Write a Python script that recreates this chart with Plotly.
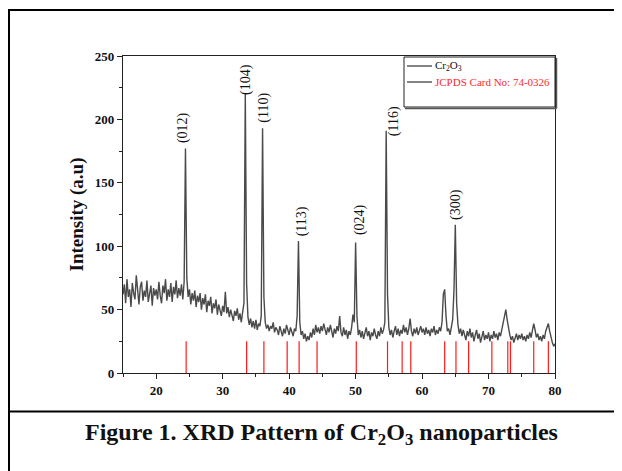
import plotly.graph_objects as go

# ---------------- data ----------------
# XRD intensity, sampled every 0.2 deg from 15.0 to 80.0 (2-theta)
intensity = [
    # 15.0 - 19.8
    62, 70, 55, 74, 60, 66, 52, 71, 63, 58, 77, 61, 54, 68, 72, 57, 65, 60, 73, 56, 64, 69, 53, 67, 61,
    # 20.0 - 24.8
    66, 58, 72, 61, 55, 69, 63, 74, 57, 66, 60, 71, 56, 68, 62, 73, 59, 67, 61, 70, 58, 72, 177, 75, 60,
    # 25.0 - 29.8
    66, 54, 63, 57, 65, 52, 61, 56, 63, 50, 59, 54, 62, 48, 57, 53, 60, 47, 55, 51, 58, 46, 54, 50, 45,
    # 30.0 - 34.8
    53, 48, 64, 47, 52, 44, 50, 46, 41, 49, 45, 51, 42, 47, 40, 48, 55, 220, 70, 44, 38, 43, 36, 41, 35,
    # 35.0 - 39.8
    42, 34, 39, 37, 45, 193, 60, 40, 35, 38, 33, 37, 35, 40, 32, 36, 34, 30, 37, 33, 29, 35, 31, 38, 33,
    # 40.0 - 44.8
    30, 36, 32, 29, 35, 33, 45, 104, 40, 30, 33, 27, 31, 25, 29, 26, 32, 28, 35, 30, 38, 32, 36, 31, 37,
    # 45.0 - 49.8
    33, 39, 35, 30, 36, 32, 38, 34, 28, 35, 31, 37, 33, 45, 32, 29, 36, 30, 34, 27, 33, 30, 36, 46, 40,
    # 50.0 - 54.8
    103, 45, 30, 34, 28, 33, 27, 31, 36, 29, 33, 26, 32, 29, 35, 30, 27, 33, 29, 36, 31, 34, 40, 191, 62,
    # 55.0 - 59.8
    36, 30, 34, 28, 33, 37, 30, 35, 29, 34, 31, 38, 32, 36, 30, 35, 43, 33, 29, 35, 31, 36, 30, 34, 37,
    # 60.0 - 64.8
    32, 35, 30, 36, 31, 34, 29, 35, 32, 37, 30, 34, 31, 36, 33, 40, 62, 66, 45, 33, 35, 30, 36, 42, 65,
    # 65.0 - 69.8
    117, 55, 38, 31, 35, 29, 34, 30, 26, 33, 29, 35, 28, 32, 25, 30, 34, 27, 31, 24, 29, 33, 26, 30, 27,
    # 70.0 - 74.8
    32, 25, 30, 27, 33, 28, 31, 26, 32, 29, 34, 38, 44, 50, 42, 35, 30, 26, 29, 24, 28, 31, 26, 30, 27,
    # 75.0 - 80.0
    31, 26, 29, 25, 30, 27, 32, 28, 33, 39, 34, 28, 31, 26, 29, 25, 30, 27, 33, 36, 39, 33, 28, 24, 21, 23,
]
assert len(intensity) == 326
two_theta = [round(15 + 0.2 * i, 1) for i in range(len(intensity))]

# JCPDS 74-0326 reference reflections (2-theta)
jcpds_2theta = [24.5, 33.6, 36.2, 39.7, 41.5, 44.2, 50.1, 54.8, 57.0, 58.3,
                63.4, 65.1, 67.0, 70.5, 72.9, 73.3, 76.8, 79.0]
jcpds_stick_height = 25

# Miller index labels and where they sit (2-theta, intensity of label base)
hkl_labels = ["(012)", "(104)", "(110)", "(113)", "(024)", "(116)", "(300)"]
hkl_label_x = [24.0, 33.5, 36.25, 41.9, 50.7, 55.9, 65.0]
hkl_label_y = [180, 218, 196, 106, 107, 185, 119]

x_ticks = [20, 30, 40, 50, 60, 70, 80]
y_ticks = [0, 50, 100, 150, 200, 250]

series_name = "Cr<sub>2</sub>O<sub>3</sub>"
card_name = "JCPDS Card No: 74-0326"
caption = "Figure 1. XRD Pattern of Cr<sub>2</sub>O<sub>3</sub> nanoparticles"

# ---------------- geometry (figure pixels; page body adds 8px offset) ----------------
SERIF = "Liberation Serif"
FW, FH = 622, 471
L, R, T, B = 115, 547, 48, 365
W, H = R - L, B - T


def px(xp):
    return (xp - L) / W


def py(yp):
    return (B - yp) / H


fig = go.Figure()

fig.add_trace(go.Scatter(
    x=two_theta, y=intensity, mode="lines",
    line=dict(color="#4a4a4a", width=1.4),
    name=series_name, showlegend=False,
))

stick_x, stick_y = [], []
for p in jcpds_2theta:
    stick_x += [p, p, None]
    stick_y += [0, jcpds_stick_height, None]
fig.add_trace(go.Scatter(
    x=stick_x, y=stick_y, mode="lines",
    line=dict(color="#ff1a1a", width=1.2),
    name=card_name, showlegend=False, hoverinfo="skip",
))

for lab, lx, ly in zip(hkl_labels, hkl_label_x, hkl_label_y):
    fig.add_annotation(
        x=lx, y=ly, text=lab, showarrow=False, textangle=-90,
        xanchor="center", yanchor="bottom",
        font=dict(family=SERIF, size=14, color="#111111"),
    )

# caption
fig.add_annotation(
    xref="paper", yref="paper", x=px(313), y=py(425.5),
    text="<b>" + caption + "</b>",
    showarrow=False, xanchor="center", yanchor="middle",
    font=dict(family=SERIF, size=24, color="#111111"),
)

# outer frame lines (top, left, caption separator)
frame = dict(type="line", xref="paper", yref="paper", line=dict(color="black", width=2))
fig.add_shape(x0=px(0), x1=px(FW), y0=py(2), y1=py(2), **frame)
fig.add_shape(x0=px(1), x1=px(1), y0=py(1), y1=py(FH), **frame)
fig.add_shape(x0=px(0), x1=px(FW), y0=py(403.5), y1=py(403.5), **frame)

# legend box (drawn to match the boxed legend of the original)
lg_x0, lg_x1, lg_y0, lg_y1 = 396, 547, 49, 99
fig.add_shape(type="line", xref="paper", yref="paper",
              x0=px(lg_x1 + 1.5), x1=px(lg_x1 + 1.5), y0=py(lg_y0 + 1), y1=py(lg_y1 + 1.5),
              line=dict(color="#555555", width=1.5))
fig.add_shape(type="line", xref="paper", yref="paper",
              x0=px(lg_x0 + 1), x1=px(lg_x1 + 1.5), y0=py(lg_y1 + 1.5), y1=py(lg_y1 + 1.5),
              line=dict(color="#555555", width=1.5))
fig.add_shape(type="rect", xref="paper", yref="paper",
              x0=px(lg_x0), x1=px(lg_x1), y0=py(lg_y1), y1=py(lg_y0),
              line=dict(color="#222222", width=1), fillcolor="white", layer="above")
legend_items = [(series_name, "#111111", 58), (card_name, "#ff2a2a", 74)]
for name, col, yy in legend_items:
    fig.add_shape(type="line", xref="paper", yref="paper",
                  x0=px(399), x1=px(424), y0=py(yy), y1=py(yy),
                  line=dict(color="#333333", width=1.2), layer="above")
    fig.add_annotation(
        xref="paper", yref="paper", x=px(425), y=py(yy),
        text=name, showarrow=False, xanchor="left", yanchor="middle",
        font=dict(family=SERIF, size=11, color=col),
    )

axis_common = dict(
    showline=True, linecolor="#222222", linewidth=1.2, mirror=True,
    ticks="outside", ticklen=5, tickwidth=1.2, tickcolor="#222222",
    showgrid=False, zeroline=False,
    tickfont=dict(family=SERIF, size=13, color="#111111", weight="bold"),
)

fig.update_xaxes(
    range=[15, 80], tickvals=x_ticks,
    minor=dict(dtick=5, tick0=0, ticklen=3, tickcolor="#222222", ticks="outside"),
    **axis_common,
)
fig.update_yaxes(
    range=[0, 250], tickvals=y_ticks,
    minor=dict(dtick=25, tick0=0, ticklen=3, tickcolor="#222222", ticks="outside"),
    title=dict(text="Intensity (a.u)", standoff=6,
               font=dict(family=SERIF, size=19, color="#111111", weight="bold")),
    **axis_common,
)

fig.update_layout(
    width=FW, height=FH,
    margin=dict(l=L, r=FW - R, t=T, b=FH - B, pad=0, autoexpand=False),
    paper_bgcolor="white", plot_bgcolor="white",
    showlegend=False,
)

fig.write_html("out.html")
